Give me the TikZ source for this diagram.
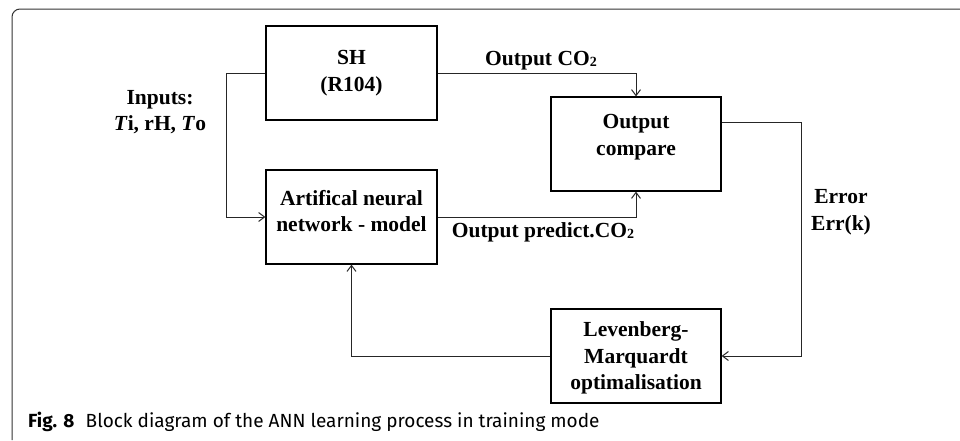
\documentclass[tikz,border=0pt]{standalone}
\usepackage{fontspec}
\setmainfont{Liberation Serif}
\newfontfamily\capfont{Fira Sans}
\usetikzlibrary{arrows.meta}
\newcommand{\cotwo}{CO\raisebox{-1pt}{\fontsize{14}{14}\selectfont 2}}
\begin{document}
\begin{tikzpicture}[x=1pt,y=-1pt,
  box/.style={draw=black,line width=1.2pt,inner sep=0pt},
  txt/.style={align=center,inner sep=0pt,font=\fontsize{21.5}{26.5}\selectfont\bfseries},
  lbl/.style={inner sep=0pt,anchor=base,font=\fontsize{21.5}{26.5}\selectfont\bfseries},
  conn/.style={draw=black!85,line width=1pt},
  arr/.style={conn,-{Straight Barb[length=6pt,width=9pt,line width=1pt]}}]
\useasboundingbox (0,0) rectangle (960,440);
% frame
\draw[black!80,line width=1pt,rounded corners=8pt] (12,440) -- (12,9) -- (960,9);
% boxes
\node[box,minimum width=171pt,minimum height=94pt] (sh) at (351.5,73) {};
\node[box,minimum width=171pt,minimum height=94pt] (ann) at (351.5,217) {};
\node[box,minimum width=170pt,minimum height=94pt] (cmp) at (636,144) {};
\node[box,minimum width=170pt,minimum height=94pt] (lm) at (636,356) {};
% box texts
\node[txt] (shT) at (351.5,73) {SH\\(R104)};
\node[txt] (annT) at (351.5,211) {Artifical neural\\network - model};
\node[txt] (cmpT) at (636,137) {Output\\compare};
\node[txt] (lmT) at (636,358) {Levenberg-\\Marquardt\\optimalisation};
% labels
\node[txt] (inp) at (160,112) {Inputs:\\\textit{T}i, rH, \textit{T}o};
\node[lbl] (oco) at (541,65) {Output \cotwo};
\node[lbl] (opr) at (543,237) {Output predict.\cotwo};
\node[txt] (err) at (841,212) {Error\\Err(k)};
% connectors
\coordinate (inx) at (226,73);
\coordinate (erx) at (801,122);
\draw[arr] (sh.west) -- (inx) |- (ann.west);
\draw[arr] (sh.east) -| (cmp.north);
\draw[arr] (ann.east) -| (cmp.south);
\draw[conn] (cmp.east |- erx) -- (erx);
\draw[arr] (erx) |- (lm.east);
\draw[arr] (lm.west) -| (ann.south);
% caption
\node[anchor=base west,inner sep=0pt,font=\capfont\fontsize{19}{20}\selectfont] (cap) at (28,427)
  {\textbf{Fig. 8}\hspace{0.6em}Block diagram of the ANN learning process in training mode};
\end{tikzpicture}
\end{document}
